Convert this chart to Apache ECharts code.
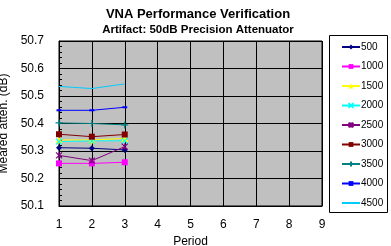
<!DOCTYPE html>
<html><head><meta charset="utf-8">
<script src="https://cdn.jsdelivr.net/npm/echarts@6/dist/echarts.min.js"></script>
<style>html,body{margin:0;padding:0;background:#fff}#c{width:391px;height:246px}</style>
</head><body><div id="c"></div>
<script>
var periods = [1, 2, 3];
var seriesNames = ['500','1000','1500','2000','2500','3000','3500','4000','4500'];
var v500  = [50.312, 50.310, 50.304];
var v1000 = [50.255, 50.255, 50.259];
var v1500 = [50.340, 50.340, 50.346];
var v2000 = [50.334, 50.337, 50.337];
var v2500 = [50.284, 50.265, 50.316];
var v3000 = [50.361, 50.352, 50.360];
var v3500 = [50.402, 50.400, 50.395];
var v4000 = [50.448, 50.448, 50.459];
var v4500 = [50.535, 50.527, 50.544];
var allValues = [v500,v1000,v1500,v2000,v2500,v3000,v3500,v4000,v4500];
var colors = ['#000080','#FF00FF','#FFFF00','#00FFFF','#800080','#800000','#008080','#0000FF','#00CCFF'];
var symbols = ['diamond','rect','triangle','path://M0,0L10,10M10,0L0,10','path://M0,0L10,10M10,0L0,10M5,0L5,10','rect','path://M5,0L5,10M0,5L10,5','rect','none'];
var sizes = [6,6,7,6,6,6,7,[5,2],0];
var strokeSym = [false,false,false,true,true,false,true,false,false];
var FONT = '"Liberation Sans", Arial, sans-serif';

var series = seriesNames.map(function(n,i){
  return {
    name: n, type: 'line',
    data: periods.map(function(p,j){ return [p, allValues[i][j]]; }),
    symbol: symbols[i], symbolSize: sizes[i], showSymbol: symbols[i] !== 'none',
    lineStyle: {color: colors[i], width: 1},
    itemStyle: {color: colors[i], borderColor: colors[i], borderWidth: strokeSym[i] ? 1.2 : 0},
    emphasis: {disabled: true}, animation: false
  };
});

var legendData = seriesNames.map(function(n,i){
  return symbols[i] === 'none' ? {name: n, itemStyle: {opacity: 0}} : {name: n};
});

var chart = echarts.init(document.getElementById('c'));
chart.setOption({
  animation: false,
  textStyle: {fontFamily: FONT},
  title: {
    text: 'VNA Performance Verification',
    subtext: 'Artifact: 50dB Precision Attenuator',
    left: 193, textAlign: 'center', top: 3, itemGap: 3,
    textStyle: {fontSize: 13, fontWeight: 'bold', color: '#000', fontFamily: FONT},
    subtextStyle: {fontSize: 11.5, fontWeight: 'bold', color: '#000', fontFamily: FONT}
  },
  grid: {left: 59, right: 69, top: 41, bottom: 40, containLabel: false, outerBoundsMode: 'none',
    show: true, backgroundColor: '#C0C0C0', borderColor: '#000', borderWidth: 1},
  xAxis: {
    type: 'value', min: 1, max: 9, interval: 1,
    name: 'Period', nameLocation: 'middle', nameGap: 22,
    nameTextStyle: {fontSize: 12, color: '#000', fontFamily: FONT},
    axisLine: {show: true, lineStyle: {color: '#000'}},
    axisTick: {show: false},
    axisLabel: {fontSize: 12, color: '#000', margin: 13, fontFamily: FONT},
    splitLine: {show: true, lineStyle: {color: '#000', width: 1}}
  },
  yAxis: {
    type: 'value', min: 50.1, max: 50.7, interval: 0.1,
    name: 'Meared atten. (dB)', nameLocation: 'middle', nameGap: 45,
    nameTextStyle: {fontSize: 12, color: '#000', fontFamily: FONT},
    axisLine: {show: true, lineStyle: {color: '#000'}},
    axisTick: {show: true, inside: true, length: 4, lineStyle: {color: '#000'}},
    minorTick: {show: true, splitNumber: 5, length: 3, lineStyle: {color: '#000'}},
    axisLabel: {fontSize: 12, color: '#000', margin: 15, fontFamily: FONT,
      formatter: function(v){ return v.toFixed(1); }},
    splitLine: {show: true, lineStyle: {color: '#000', width: 1}}
  },
  legend: {
    orient: 'vertical', left: 336, top: 36,
    itemWidth: 18, itemHeight: 6, itemGap: 7.5,
    textStyle: {fontSize: 10, color: '#000', fontFamily: FONT, lineHeight: 12, padding: [0,0,0,-4]},
    data: legendData, selectedMode: false
  },
  graphic: [{type: 'rect', shape: {x: 329.5, y: 35.5, width: 58, height: 177},
    style: {fill: 'none', stroke: '#000', lineWidth: 1}, z: 100}],
  series: series
});
</script></body></html>
